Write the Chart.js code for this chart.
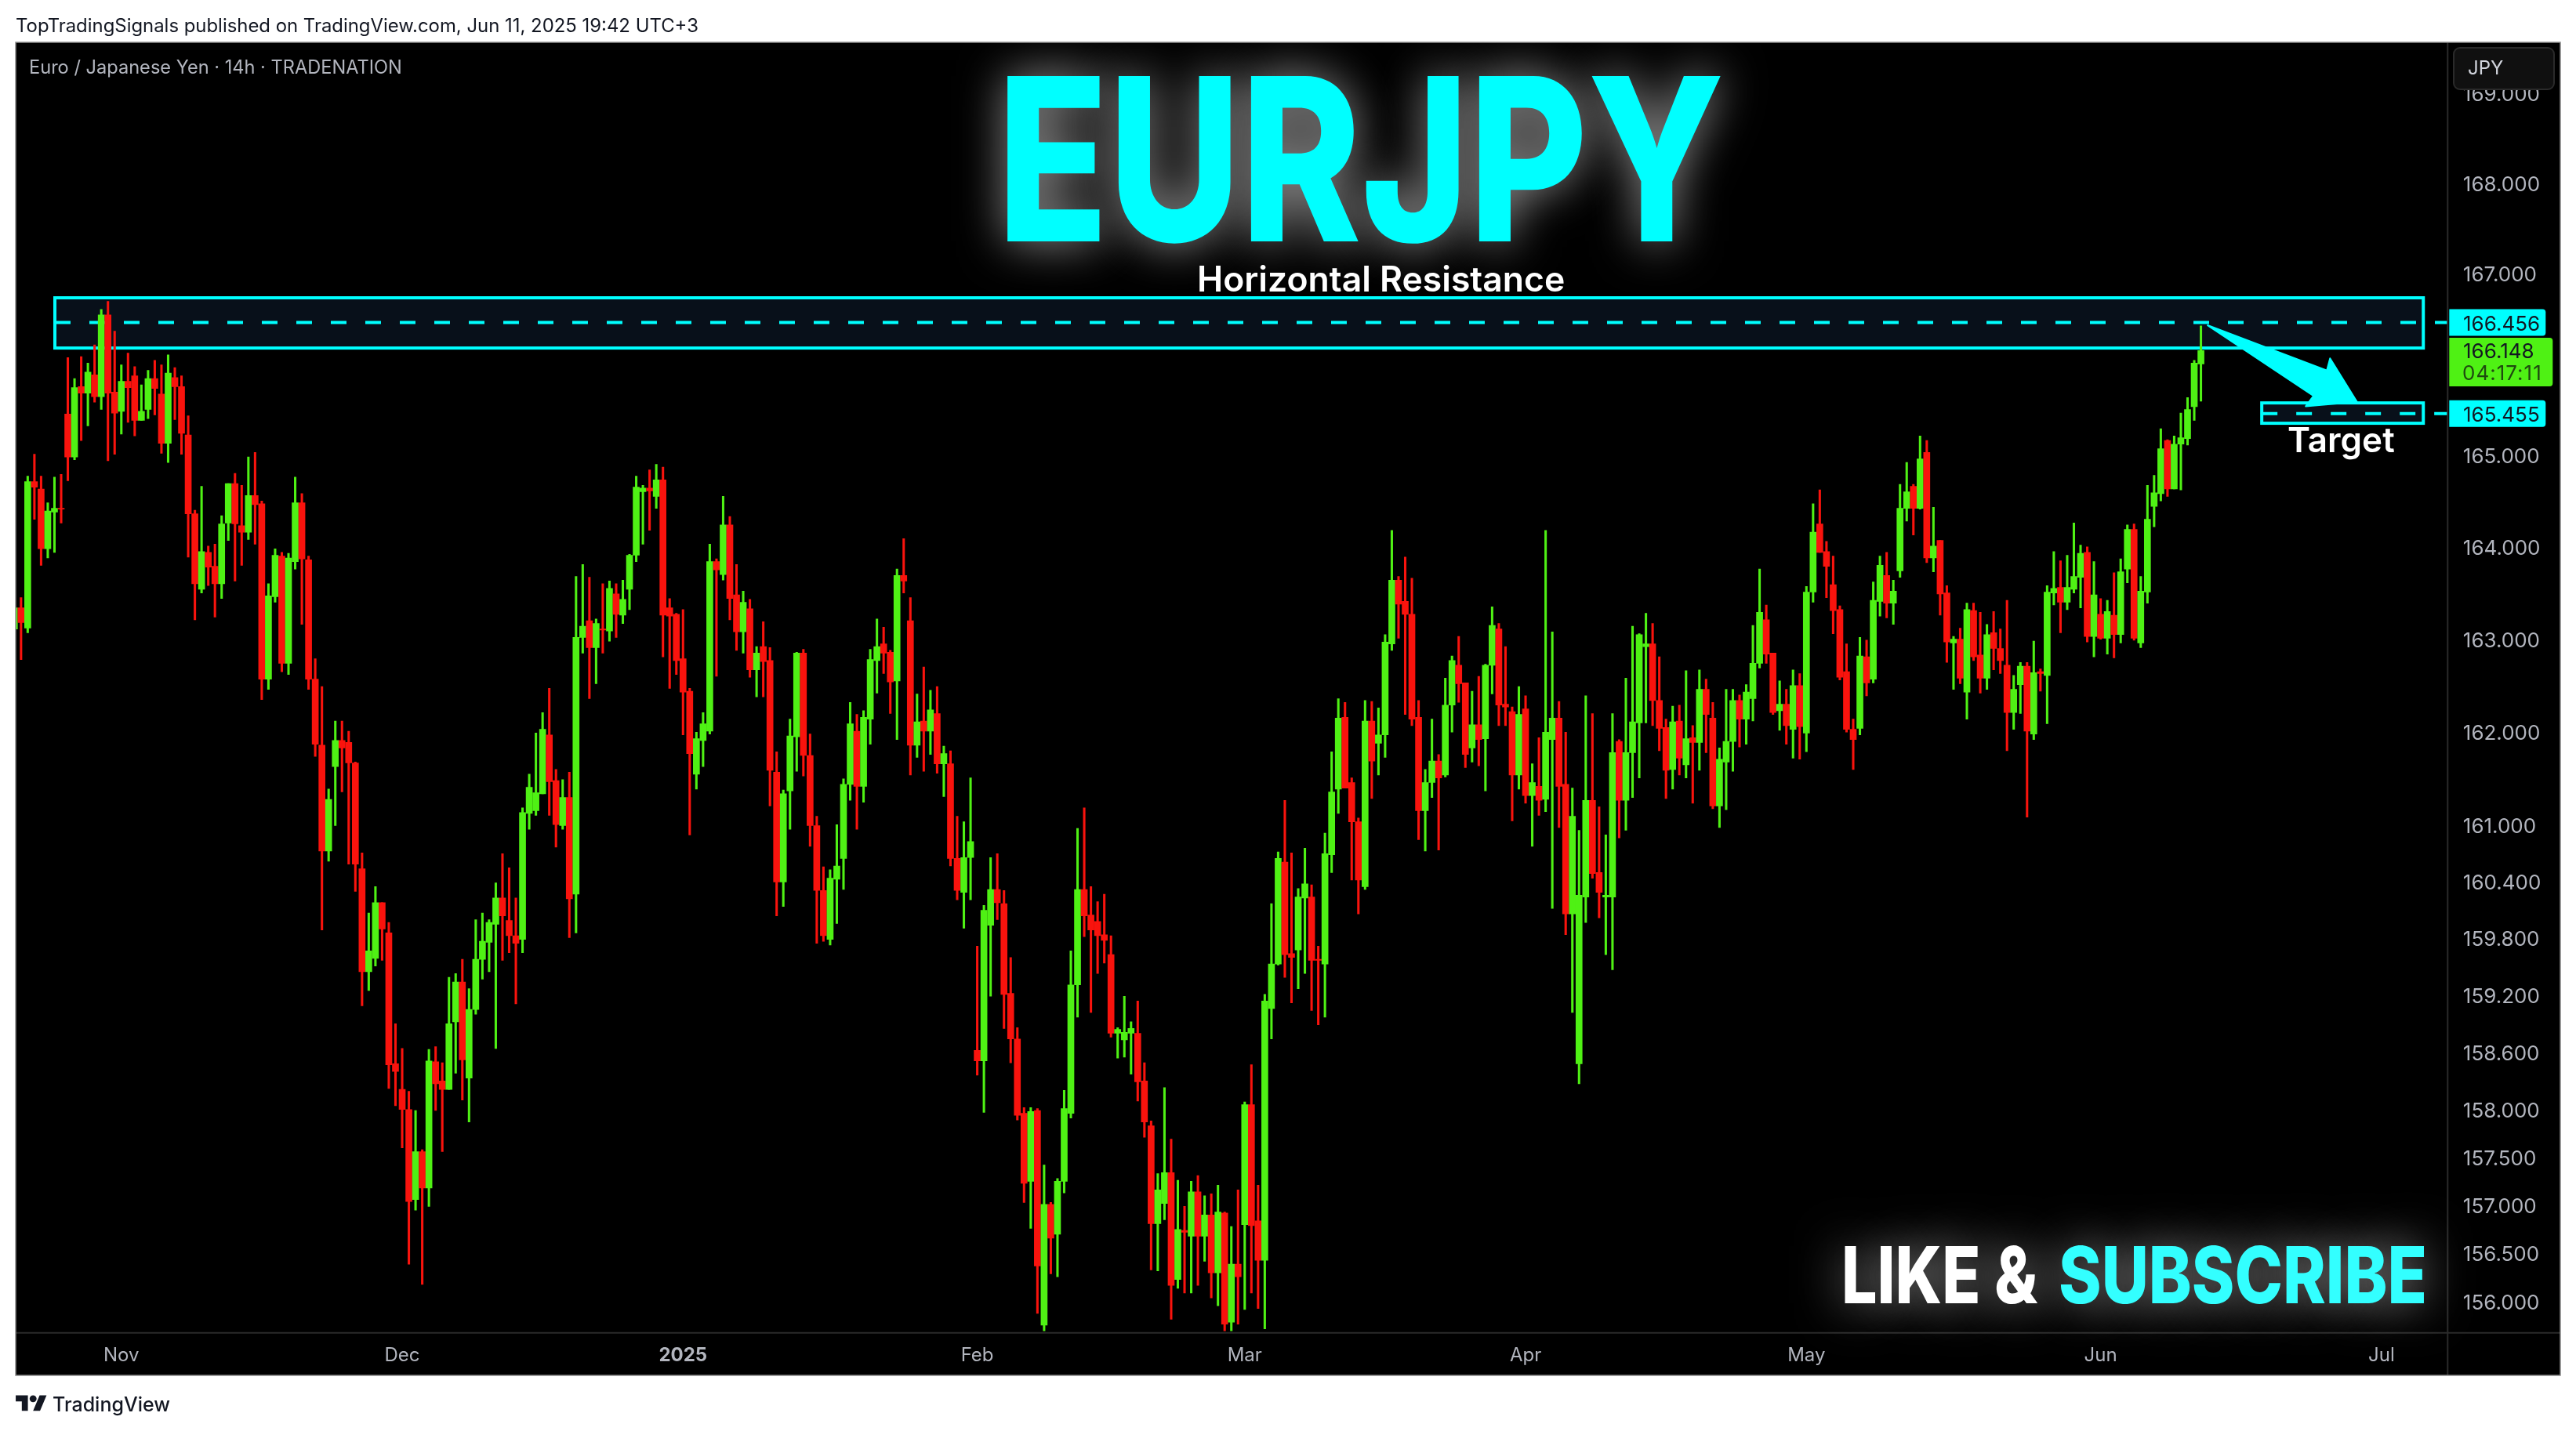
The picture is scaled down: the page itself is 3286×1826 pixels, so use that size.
<!DOCTYPE html>
<html lang="en">
<head>
<meta charset="UTF-8">
<title>EURJPY 14h</title>
<script src="https://cdn.jsdelivr.net/npm/chart.js@4.4.0/dist/chart.umd.min.js"></script>
<style>
  html, body { margin: 0; background: #fff; }
  #wrap { position: relative; width: 3286px; height: 1826px; overflow: hidden; }
  canvas { position: absolute; left: 0; top: 0; }
  #published { position: absolute; left: 20px; top: 18px; font: 400 23.9px Inter, sans-serif; color: #131722; white-space: nowrap; }
  #brand { position: absolute; left: 67px; top: 1777px; font: 500 25px Inter, sans-serif; color: #131722; }
  #logo { position: absolute; left: 20px; top: 1776px; }
</style>
</head>
<body>
<div id="wrap">
  <canvas id="chart" width="3286" height="1826"></canvas>
  <div id="published">TopTradingSignals published on TradingView.com, Jun 11, 2025 19:42 UTC+3</div>
  <svg id="logo" width="40" height="31" viewBox="0 0 36 28"><path fill="#131722" d="M14 22H7V11H0V4h14v18zM28 22h-8l7.5-18h8L28 22z"/><circle fill="#131722" cx="20" cy="8" r="4"/></svg>
  <div id="brand">TradingView</div>
</div>
<script>
// 14h candles, oldest first
const opens = [
  163.11,163.34,163.12,164.71,164.63,163.98,164.38,164.42,165.45,164.98,
  165.75,165.68,165.88,165.64,166.54,165.69,165.48,165.81,165.87,165.38,
  165.50,165.84,165.67,165.13,165.85,165.75,165.22,164.36,163.54,163.94,
  163.79,163.60,164.26,164.69,164.23,164.16,164.56,164.47,162.57,163.46,
  163.90,162.74,163.84,164.48,163.86,162.57,161.86,160.73,161.63,161.91,
  161.89,161.67,160.54,159.45,159.59,160.18,159.86,158.48,158.21,158.00,
  157.06,157.56,157.18,158.50,158.30,158.21,158.92,159.34,158.33,159.05,
  159.58,159.76,159.95,160.23,159.99,159.83,159.79,161.13,161.16,161.34,
  161.97,161.48,161.00,161.30,160.27,163.02,163.20,162.91,163.11,163.09,
  163.49,163.26,163.54,163.91,164.60,164.64,164.55,164.73,163.34,163.27,
  162.79,162.44,161.55,161.91,162.01,163.84,163.70,164.24,163.48,163.08,
  163.33,162.67,162.92,162.77,161.57,160.40,161.37,161.95,162.85,161.75,
  161.00,160.31,159.79,160.43,160.65,161.44,162.01,161.42,162.14,162.77,
  162.95,162.86,162.55,163.69,163.20,161.86,162.12,162.01,162.20,161.66,
  161.66,160.65,160.29,160.66,158.62,158.51,159.94,160.32,160.17,159.22,
  158.74,157.96,157.25,157.99,155.76,157.01,156.70,157.25,157.96,159.31,
  160.32,160.05,159.98,159.84,159.63,158.80,158.73,158.80,158.80,158.30,
  157.83,156.81,157.02,157.34,156.23,156.74,156.68,157.14,156.68,156.90,
  156.30,156.92,155.79,156.39,156.80,158.05,156.84,156.43,159.06,159.53,
  160.61,159.64,159.68,160.23,160.24,159.58,159.53,160.69,161.39,162.16,
  161.46,161.04,160.35,162.12,161.88,161.97,162.95,163.64,163.41,163.27,
  162.16,161.16,161.46,161.69,161.54,162.29,162.72,162.53,161.83,162.08,
  161.93,162.72,163.11,162.30,162.22,161.54,162.25,161.32,161.42,161.28,
  161.92,162.15,161.44,160.06,158.48,160.24,161.27,160.50,160.24,160.24,
  161.90,161.27,161.78,162.10,162.92,162.95,162.34,162.05,161.60,162.12,
  161.65,161.94,161.89,162.46,162.15,161.21,161.68,161.90,162.34,162.14,
  162.36,162.74,163.21,162.85,162.23,162.30,162.03,162.50,161.99,163.51,
  164.25,163.95,163.59,163.32,162.65,162.03,162.04,162.81,162.57,163.41,
  163.69,163.39,163.74,164.42,164.66,164.42,165.03,163.88,164.07,163.50,
  162.96,163.00,162.43,163.31,162.83,162.58,163.07,162.90,162.72,162.21,
  162.51,162.71,161.98,162.65,162.61,163.50,163.56,163.40,163.54,163.67,
  163.94,163.03,163.27,163.01,163.26,163.05,163.76,164.19,162.96,163.51,
  164.44,164.58,165.16,164.63,165.12,165.18,165.53,166.00
];
const highs = [
  163.42,163.45,164.77,165.01,164.77,164.48,164.76,164.79,166.07,165.84,
  166.08,166.01,166.21,166.60,166.69,166.36,165.99,166.12,165.97,165.77,
  165.93,166.04,165.99,166.10,165.96,165.87,165.43,164.40,164.66,164.01,
  164.03,164.34,164.69,164.80,164.67,164.98,165.03,164.50,163.60,163.98,
  163.94,163.93,164.76,164.58,163.90,162.79,162.49,161.39,162.12,162.12,
  162.01,161.68,160.71,160.07,160.35,160.18,159.97,158.90,158.64,158.19,
  157.99,157.58,158.63,158.66,158.49,159.39,159.43,159.58,159.27,160.00,
  160.07,160.00,160.39,160.70,160.55,160.23,161.19,161.55,161.99,162.21,
  162.47,161.60,161.49,161.57,163.68,163.81,163.67,163.22,163.60,163.63,
  163.60,163.64,163.92,164.77,164.67,164.84,164.90,164.87,163.44,163.28,
  163.32,162.47,162.00,162.21,164.03,163.87,164.55,164.33,163.81,163.52,
  163.43,162.92,163.19,162.91,161.79,161.38,162.14,162.86,162.89,161.98,
  161.10,160.56,160.53,161.01,161.50,162.32,162.19,162.23,162.89,163.22,
  163.13,162.88,163.76,164.09,163.45,162.41,162.70,162.45,162.49,161.85,
  161.80,161.10,161.04,161.51,159.72,160.15,160.66,160.70,160.31,159.60,
  158.86,158.02,158.02,158.01,157.42,157.03,157.28,158.20,159.67,160.97,
  161.19,160.35,160.19,160.27,159.83,158.86,159.19,158.92,159.14,158.49,
  157.88,157.33,158.23,157.69,157.26,156.99,157.25,157.31,157.10,157.12,
  157.21,156.93,156.78,157.16,158.08,158.47,157.21,159.21,160.17,160.72,
  161.27,160.71,160.33,160.76,160.37,159.72,160.92,161.79,162.36,162.32,
  161.51,161.08,162.34,162.33,162.26,163.05,164.18,163.68,163.89,163.66,
  162.34,161.60,162.14,161.76,162.58,162.82,163.03,162.53,162.44,162.60,
  162.73,163.35,163.17,162.92,162.27,162.49,162.39,161.66,161.94,164.18,
  163.08,162.33,162.00,161.40,160.95,162.39,162.20,161.20,160.90,162.20,
  161.92,162.58,163.14,163.06,163.28,163.17,162.81,162.14,162.28,162.29,
  162.66,162.07,162.67,162.57,162.32,161.83,162.46,162.46,162.40,162.51,
  163.15,163.76,163.37,162.85,162.55,162.46,162.67,162.63,163.57,164.47,
  164.62,164.06,163.90,163.36,162.95,162.14,163.02,162.99,163.62,163.90,
  163.94,163.64,164.68,164.92,164.68,165.21,165.16,164.43,164.07,163.58,
  163.03,163.12,163.39,163.39,163.29,163.16,163.30,163.11,163.42,162.61,
  162.75,162.75,162.98,162.68,163.58,163.95,163.85,163.91,164.26,164.02,
  164.00,163.84,163.44,163.42,163.72,163.87,164.24,164.25,163.68,164.67,
  164.78,165.29,165.17,165.21,165.46,165.63,166.04,166.42
];
const lows = [
  162.77,162.78,163.07,164.30,163.80,163.88,163.94,164.26,164.72,164.95,
  165.16,165.32,165.58,165.50,164.94,165.01,165.23,165.36,165.21,165.38,
  165.40,165.44,165.02,164.92,165.39,165.01,163.89,163.21,163.50,163.58,
  163.24,163.44,164.07,163.63,163.80,164.08,164.03,162.35,162.46,163.40,
  162.65,162.62,163.76,163.16,162.46,161.74,159.89,160.62,161.00,161.36,
  160.59,160.30,159.09,159.25,159.51,159.57,158.22,158.04,157.60,156.39,
  156.95,156.18,156.99,157.99,157.56,158.21,158.38,158.10,157.87,159.00,
  159.37,159.45,158.64,159.57,159.65,159.11,159.65,160.96,161.11,161.34,
  161.11,160.77,160.96,159.81,159.86,162.85,162.36,162.52,162.85,162.98,
  163.02,163.17,163.32,163.84,164.03,164.18,164.42,162.81,162.47,162.62,
  161.97,160.90,161.39,161.63,161.98,162.60,163.64,163.21,162.88,162.85,
  162.59,162.38,162.38,161.21,160.04,160.14,160.96,161.58,161.53,160.78,
  159.75,159.77,159.73,159.96,160.32,161.27,160.96,161.25,161.87,162.42,
  162.63,162.20,161.92,163.50,161.54,161.73,161.58,161.76,161.56,161.31,
  160.57,160.21,159.91,160.21,158.36,157.97,159.19,160.00,158.85,158.49,
  157.89,157.03,156.76,155.88,155.70,156.29,156.26,157.13,157.91,158.97,
  159.82,159.02,159.43,159.54,158.76,158.54,158.55,158.37,158.09,157.71,
  156.33,156.32,156.85,155.82,156.14,156.09,156.09,156.17,156.42,156.04,
  155.96,155.70,155.70,155.77,155.92,156.09,155.93,155.72,158.74,159.52,
  159.39,159.12,159.27,159.43,159.04,158.89,158.97,160.50,161.13,161.40,
  160.42,160.06,160.32,161.29,161.54,161.73,162.88,163.01,162.19,162.07,
  160.85,160.73,161.30,160.74,161.52,162.00,162.32,161.62,161.68,161.64,
  161.37,162.41,162.07,162.07,161.05,161.39,161.24,160.78,161.11,161.15,
  160.12,160.98,159.84,159.02,158.27,159.97,160.44,160.02,159.63,159.47,
  160.87,160.95,161.30,161.51,162.10,162.07,161.80,161.29,161.39,161.54,
  161.51,161.24,161.59,161.78,161.18,160.98,161.17,161.58,161.84,161.87,
  162.12,162.69,162.74,162.19,162.02,161.87,161.72,161.71,161.79,163.40,
  163.94,163.45,163.06,162.56,162.00,161.60,161.97,162.39,162.53,163.25,
  163.23,163.16,163.67,164.28,164.13,164.41,163.83,163.73,163.26,162.75,
  162.46,162.52,162.14,162.77,162.42,162.46,162.67,162.63,161.80,162.03,
  162.20,161.09,161.92,162.44,162.09,163.37,163.07,163.32,163.50,163.34,
  162.97,162.81,163.00,162.84,162.80,162.96,163.61,162.99,162.91,163.39,
  164.22,164.50,164.55,164.63,164.62,165.11,165.38,165.59
];
const closes = [
  163.34,163.18,164.71,164.65,163.98,164.39,164.42,164.41,164.98,165.74,
  165.68,165.91,165.64,166.54,165.68,165.46,165.81,165.74,165.38,165.48,
  165.84,165.73,165.13,165.90,165.75,165.24,164.36,163.60,163.95,163.78,
  163.60,164.25,164.69,164.25,164.16,164.56,164.46,162.57,163.47,163.91,
  162.74,163.88,164.48,163.87,162.57,161.87,160.73,161.28,161.91,161.83,
  161.67,160.59,159.45,159.67,160.18,159.90,158.47,158.40,158.00,157.04,
  157.56,157.18,158.51,158.27,158.21,158.90,159.34,158.52,159.05,159.58,
  159.77,159.97,160.23,160.04,159.83,159.75,161.14,161.41,161.35,162.03,
  161.47,161.01,161.30,160.22,163.02,163.14,162.91,163.17,163.10,163.55,
  163.27,163.43,163.91,164.65,164.64,164.61,164.73,163.26,163.25,162.77,
  162.43,161.77,161.93,162.09,163.84,163.75,164.24,163.44,163.08,163.40,
  162.67,162.85,162.76,161.59,160.40,161.34,161.96,162.85,161.75,161.00,
  160.31,159.83,160.44,160.57,161.44,162.09,161.42,162.16,162.78,162.92,
  162.85,162.54,163.69,163.63,161.86,162.11,162.01,162.24,161.66,161.77,
  160.65,160.31,160.66,160.83,158.51,160.10,160.32,160.18,159.21,158.74,
  157.94,157.23,157.98,156.37,157.01,156.66,157.25,158.01,159.31,160.32,
  160.04,159.89,159.83,159.78,158.80,158.84,158.81,158.85,158.29,157.87,
  156.81,157.16,157.34,156.17,156.75,156.72,157.14,156.68,156.90,156.30,
  156.93,155.77,156.39,156.26,158.05,156.79,156.43,159.14,159.53,160.65,
  159.63,159.60,160.24,160.38,159.57,159.57,160.70,161.36,162.15,161.40,
  161.04,160.42,162.12,161.69,161.97,162.97,163.64,163.38,163.27,162.14,
  161.16,161.46,161.69,161.51,162.29,162.77,162.52,161.76,162.08,161.92,
  162.72,163.15,162.29,162.27,161.54,162.19,161.32,161.46,161.27,162.00,
  162.15,161.42,160.06,161.10,160.26,161.27,160.49,160.29,160.26,161.78,
  161.27,161.78,162.11,163.05,162.95,162.34,162.04,161.59,162.11,161.72,
  161.93,161.89,162.46,162.19,161.21,161.71,161.90,162.34,162.14,162.43,
  162.74,163.29,162.84,162.21,162.30,162.07,162.50,162.06,163.51,164.16,
  163.94,163.79,163.31,162.59,162.03,161.92,162.82,162.53,163.42,163.80,
  163.39,163.52,164.42,164.60,164.42,164.96,163.88,164.01,163.49,162.97,
  163.00,162.58,163.32,162.81,162.58,163.05,162.90,162.77,162.21,162.46,
  162.71,162.01,162.64,162.63,163.51,163.55,163.40,163.56,163.68,163.93,
  163.03,163.48,163.01,163.30,163.05,163.73,164.19,163.01,163.52,164.30,
  164.59,165.07,164.63,165.12,165.19,165.50,166.01,166.148
];

const priceTicks = [169,168,167,165,164,163,162,161,160.4,159.8,159.2,158.6,158,157.5,157,156.5,156];
const monthTicks = [16,58,100,144,184,226,268,312,354];
const monthLabels = ['Nov','Dec','2025','Feb','Mar','Apr','May','Jun','Jul'];

// annotations, in bar index / price
const resistanceZone = { from: 6.06, to: 360.26, low: 166.175, high: 166.729, line: 166.456 };
const targetZone = { from: 336.1, to: 360.26, low: 165.349, high: 165.572, line: 165.455 };
const arrowBars = [328.0, 345.83, 346.31, 350.34, 342.67, 343.84];
const arrowPrices = [166.426, 165.928, 166.061, 165.583, 165.535, 165.650];
const lastPrice = 166.148;
const countdown = '04:17:11';

const GREEN = '#4FF114', RED = '#F9130D', CYAN = '#00FFFF', GREY = '#B2B5BE';
const indexes = opens.map((_, i) => i);
const candleColors = indexes.map(i => closes[i] >= opens[i] ? GREEN : RED);

function dashed(ctx, x0, x1, y) {
  ctx.save();
  ctx.strokeStyle = CYAN;
  ctx.lineWidth = 4;
  ctx.setLineDash([20, 24]);
  ctx.beginPath();
  ctx.moveTo(x0, y);
  ctx.lineTo(x1, y);
  ctx.stroke();
  ctx.restore();
}

function zone(chart, z) {
  const { x, y } = chart.scales;
  const ctx = chart.ctx;
  const l = x.getPixelForValue(z.from), r = x.getPixelForValue(z.to);
  const t = y.getPixelForValue(z.high), b = y.getPixelForValue(z.low);
  ctx.fillStyle = '#08101A';
  ctx.fillRect(l, t, r - l, b - t);
  dashed(ctx, l, chart.chartArea.right, y.getPixelForValue(z.line));
  ctx.strokeStyle = CYAN;
  ctx.lineWidth = 4;
  ctx.strokeRect(l, t, r - l, b - t);
}

function glowText(ctx, text, x, baseline, font, color, maxWidth) {
  ctx.save();
  ctx.font = font;
  ctx.textAlign = 'left';
  ctx.textBaseline = 'alphabetic';
  ctx.fillStyle = color;
  ctx.shadowColor = 'rgba(255,255,255,0.6)';
  ctx.shadowBlur = 60;
  ctx.fillText(text, x, baseline, maxWidth);
  ctx.restore();
}

function plainText(ctx, text, x, baseline, font, color, maxWidth) {
  ctx.font = font;
  ctx.textAlign = 'left';
  ctx.textBaseline = 'alphabetic';
  ctx.fillStyle = color;
  ctx.fillText(text, x, baseline, maxWidth);
}

function priceTag(chart, price, color, h, width) {
  const ctx = chart.ctx;
  const yp = chart.scales.y.getPixelForValue(price);
  ctx.fillStyle = color;
  ctx.beginPath();
  ctx.roundRect(chart.chartArea.right + 2, yp - h / 2, width, h, [0, 4, 4, 0]);
  ctx.fill();
  return yp;
}

const tvPlugin = {
  id: 'tvPlugin',
  beforeDraw(chart) {
    const ctx = chart.ctx;
    ctx.fillStyle = '#000';
    ctx.fillRect(20, 54, 3246, 1701);
  },
  beforeDatasetsDraw(chart) {
    const ctx = chart.ctx;
    ctx.save();
    zone(chart, resistanceZone);
    zone(chart, targetZone);
    ctx.restore();
  },
  afterDatasetsDraw(chart) {
    const ctx = chart.ctx;
    const { x, y } = chart.scales;
    const area = chart.chartArea;
    ctx.save();

    // pane borders
    ctx.strokeStyle = '#2A2A2A';
    ctx.lineWidth = 2;
    ctx.beginPath();
    ctx.moveTo(area.right, 54);
    ctx.lineTo(area.right, 1755);
    ctx.moveTo(20, area.bottom);
    ctx.lineTo(3266, area.bottom);
    ctx.stroke();
    ctx.strokeStyle = '#8A8A8A';
    ctx.lineWidth = 1.5;
    ctx.strokeRect(20, 54, 3246, 1701);

    // arrow from the high to the target
    ctx.fillStyle = CYAN;
    ctx.strokeStyle = CYAN;
    ctx.lineWidth = 2;
    ctx.lineJoin = 'round';
    ctx.beginPath();
    arrowBars.forEach((b, i) => {
      const px = x.getPixelForValue(b), py = y.getPixelForValue(arrowPrices[i]);
      if (i === 0) ctx.moveTo(px, py); else ctx.lineTo(px, py);
    });
    ctx.closePath();
    ctx.fill();
    ctx.stroke();

    // headline texts
    glowText(ctx, 'EURJPY', 1272, 308, '800 290px Inter', CYAN, 928);
    glowText(ctx, 'LIKE &', 2349, 1663, '800 100px Inter', '#FFFFFF', 250);
    glowText(ctx, 'SUBSCRIBE', 2626, 1663, '800 100px Inter', '#33FFFF', 470);
    plainText(ctx, 'Horizontal Resistance', 1527, 372, '600 44.5px Inter', '#FFFFFF', 472);
    plainText(ctx, 'Target', 2918, 577, '600 44px Inter', '#FFFFFF', 140);
    plainText(ctx, 'Euro / Japanese Yen · 14h · TRADENATION', 37, 94, '400 23.6px Inter', GREY, 478);

    // JPY button over the axis
    ctx.fillStyle = '#101010';
    ctx.strokeStyle = '#2A2A2A';
    ctx.lineWidth = 2;
    ctx.beginPath();
    ctx.roundRect(3130, 61, 128, 53, 8);
    ctx.fill();
    ctx.stroke();
    plainText(ctx, 'JPY', 3148, 95, '400 24px Inter', '#D1D4DC');

    // last price flags
    const axisFont = '400 26px Inter';
    let yp = priceTag(chart, resistanceZone.line, CYAN, 34, 123);
    plainText(ctx, resistanceZone.line.toFixed(3), 3142, yp + 10, axisFont, '#131722');
    yp = priceTag(chart, targetZone.line, CYAN, 34, 123);
    plainText(ctx, targetZone.line.toFixed(3), 3142, yp + 10, axisFont, '#131722');
    ctx.fillStyle = GREEN;
    ctx.beginPath();
    ctx.roundRect(area.right + 2, 431, 132, 62, [0, 4, 4, 0]);
    ctx.fill();
    plainText(ctx, lastPrice.toFixed(3), 3142, 457, axisFont, '#131722');
    ctx.letterSpacing = '1px';
    plainText(ctx, countdown, 3141, 485, axisFont, '#1F4A10');
    ctx.letterSpacing = '0px';
    ctx.restore();
  }
};

new Chart(document.getElementById('chart'), {
  type: 'bar',
  plugins: [tvPlugin],
  data: {
    datasets: [
      {
        label: 'wicks',
        data: indexes.map(i => ({ x: i, y: [lows[i], highs[i]] })),
        backgroundColor: candleColors,
        barThickness: 2.4,
        grouped: false,
        order: 2
      },
      {
        label: 'bodies',
        data: indexes.map(i => ({ x: i, y: [Math.min(opens[i], closes[i]), Math.max(opens[i], closes[i])] })),
        backgroundColor: candleColors,
        barThickness: 8,
        grouped: false,
        order: 1
      }
    ]
  },
  options: {
    responsive: false,
    animation: false,
    devicePixelRatio: 1,
    layout: { padding: { left: 20, top: 54, right: 20, bottom: 71 } },
    plugins: { legend: { display: false }, tooltip: { enabled: false } },
    scales: {
      x: {
        type: 'linear',
        offset: false,
        min: 0.2,
        max: 363.9,
        grid: { display: false, drawTicks: false },
        border: { display: false },
        afterBuildTicks: s => { s.ticks = monthTicks.map(v => ({ value: v })); },
        afterFit: s => { s.height = 54.3; },
        ticks: {
          autoSkip: false,
          maxRotation: 0,
          padding: 15,
          color: GREY,
          font: ctx => ({ family: 'Inter', size: 24, weight: ctx.tick && ctx.tick.value === 100 ? 700 : 400 }),
          callback: v => monthLabels[monthTicks.indexOf(v)]
        }
      },
      y: {
        type: 'logarithmic',
        position: 'right',
        min: 155.68,
        max: 169.575,
        grid: { display: false, drawTicks: false },
        border: { display: false },
        afterBuildTicks: s => { s.ticks = priceTicks.map(v => ({ value: v })); },
        afterFit: s => { s.width = 143.7; },
        ticks: {
          autoSkip: false,
          padding: 19.5,
          labelOffset: 2,
          color: GREY,
          font: { family: 'Inter', size: 26 },
          callback: v => Number(v).toFixed(3)
        }
      }
    }
  }
});
</script>
</body>
</html>
